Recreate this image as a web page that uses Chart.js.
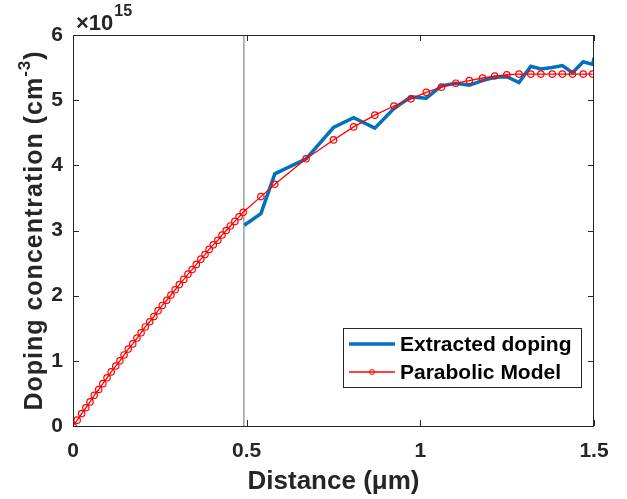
<!DOCTYPE html>
<html>
<head>
<meta charset="utf-8">
<script src="https://cdn.jsdelivr.net/npm/chart.js@4.4.1/dist/chart.umd.min.js"></script>
<style>
  html, body { margin: 0; padding: 0; background: #fff; }
  #chart { display: block; }
</style>
</head>
<body>
<canvas id="chart" width="627" height="499"></canvas>
<script>
// Doping profile: extracted vs parabolic fit. Concentrations are in 1e15 cm^-3
// (the axis shows the multiplier separately, MATLAB style).

const modelX = [
    0, 0.012, 0.025, 0.037, 0.049, 0.061, 0.074, 0.086, 0.098, 0.110,
    0.123, 0.135, 0.147, 0.159, 0.172, 0.184, 0.196, 0.208, 0.221, 0.233,
    0.245, 0.257, 0.270, 0.282, 0.294, 0.306, 0.319, 0.331, 0.343, 0.355,
    0.368, 0.380, 0.392, 0.404, 0.417, 0.429, 0.441, 0.453, 0.466, 0.478,
    0.490, 0.541, 0.581, 0.671, 0.750, 0.808, 0.869, 0.924, 0.973, 1.017,
    1.061, 1.102, 1.141, 1.179, 1.214, 1.249, 1.284, 1.318, 1.347, 1.380,
    1.409, 1.438, 1.469, 1.496,
];
const modelY = [
    0, 0.09, 0.19, 0.28, 0.37, 0.47, 0.56, 0.65, 0.74, 0.83,
    0.92, 1.00, 1.09, 1.18, 1.26, 1.35, 1.43, 1.52, 1.60, 1.68,
    1.77, 1.85, 1.93, 2.01, 2.09, 2.17, 2.25, 2.33, 2.40, 2.48,
    2.56, 2.63, 2.71, 2.78, 2.85, 2.93, 3.00, 3.07, 3.14, 3.21,
    3.28, 3.52, 3.71, 4.10, 4.39, 4.59, 4.77, 4.91, 5.02, 5.12,
    5.20, 5.26, 5.30, 5.34, 5.37, 5.39, 5.40, 5.40, 5.40, 5.40,
    5.40, 5.40, 5.40, 5.40,
];

const dopingX = [
    0.493, 0.541, 0.581, 0.671, 0.750, 0.808, 0.869, 0.924, 0.973, 1.017,
    1.061, 1.102, 1.141, 1.179, 1.214, 1.249, 1.284, 1.318, 1.347, 1.380,
    1.409, 1.438, 1.469, 1.496, 1.500,
];
const dopingY = [
    3.08, 3.26, 3.87, 4.10, 4.58, 4.73, 4.57, 4.87, 5.05, 5.03,
    5.22, 5.26, 5.23, 5.30, 5.35, 5.36, 5.27, 5.52, 5.48, 5.50,
    5.53, 5.42, 5.59, 5.55, 5.65,
];

// depletion edge marker (thin grey vertical line)
const edgeX = 0.492;

const xTicks = [0, 0.5, 1, 1.5];
const yTicks = [0, 1, 2, 3, 4, 5, 6];
const yExponent = "15";

const seriesLabels = ["Extracted doping", "Parabolic Model"];
const xTitle = "Distance (μm)";
const yTitle = ["Doping concentration (cm", "-3", ")"];

const INK = "#262626";
const BLUE = "#0072BD";
const RED = "#FF0000";
const FONT = "'Liberation Sans', Arial, Helvetica, sans-serif";

const toPoints = (xs, ys) => xs.map((x, i) => ({ x, y: ys[i] }));

// MATLAB-ish frame: full box, inward ticks, exponent label, rotated y title
// with a superscript, legend inside the axes.
const matlabAxes = {
    id: "matlabAxes",
    afterDraw(chart) {
        const { ctx, chartArea: a, scales } = chart;
        const { x, y } = scales;
        const tick = 6;
        ctx.save();
        ctx.strokeStyle = INK;
        ctx.lineWidth = 1;
        ctx.strokeRect(a.left + 0.5, a.top + 0.5, a.right - a.left - 1, a.bottom - a.top);

        ctx.beginPath();
        xTicks.forEach((v) => {
            const px = Math.round(x.getPixelForValue(v)) + 0.5;
            ctx.moveTo(px, a.bottom); ctx.lineTo(px, a.bottom - tick);
            ctx.moveTo(px, a.top); ctx.lineTo(px, a.top + tick);
        });
        yTicks.forEach((v) => {
            const py = Math.round(y.getPixelForValue(v)) + 0.5;
            ctx.moveTo(a.left, py); ctx.lineTo(a.left + tick, py);
            ctx.moveTo(a.right, py); ctx.lineTo(a.right - tick, py);
        });
        ctx.stroke();

        // x10^15
        ctx.fillStyle = INK;
        ctx.textBaseline = "alphabetic";
        ctx.textAlign = "left";
        ctx.font = `bold 22px ${FONT}`;
        const base = "×10";
        ctx.fillText(base, a.left + 3, a.top - 5);
        const bw = ctx.measureText(base).width;
        ctx.font = `bold 16px ${FONT}`;
        ctx.fillText(yExponent, a.left + 3 + bw + 1, a.top - 19);

        // y title, rotated, with superscript
        ctx.translate(33, (a.top + a.bottom) / 2);
        ctx.rotate(-Math.PI / 2);
        ctx.textBaseline = "middle";
        ctx.letterSpacing = "1px";
        const mainFont = `bold 25px ${FONT}`;
        const supFont = `bold 17px ${FONT}`;
        ctx.font = mainFont;
        const w0 = ctx.measureText(yTitle[0]).width;
        const w2 = ctx.measureText(yTitle[2]).width;
        ctx.font = supFont;
        const w1 = ctx.measureText(yTitle[1]).width;
        let cx = -(w0 + w1 + w2) / 2;
        ctx.font = mainFont;
        ctx.fillText(yTitle[0], cx, 2);
        cx += w0;
        ctx.font = supFont;
        ctx.fillText(yTitle[1], cx, -8);
        cx += w1;
        ctx.font = mainFont;
        ctx.fillText(yTitle[2], cx, 2);
        ctx.restore();

        // legend box, lower right inside the axes
        ctx.save();
        const lw = 238, lh = 59;
        const lx = a.right - 13 - lw, ly = a.bottom - 39 - lh;
        ctx.fillStyle = "#fff";
        ctx.fillRect(lx, ly, lw, lh);
        ctx.strokeStyle = INK;
        ctx.lineWidth = 1;
        ctx.strokeRect(lx + 0.5, ly + 0.5, lw, lh);
        const rows = [
            { label: seriesLabels[0], color: BLUE, width: 3.5, marker: false },
            { label: seriesLabels[1], color: RED, width: 1.3, marker: true },
        ];
        ctx.font = `bold 21px ${FONT}`;
        ctx.textBaseline = "middle";
        rows.forEach((r, i) => {
            const ry = ly + 16 + i * 28;
            ctx.strokeStyle = r.color;
            ctx.lineWidth = r.width;
            ctx.beginPath();
            ctx.moveTo(lx + 6, ry); ctx.lineTo(lx + 52, ry);
            ctx.stroke();
            if (r.marker) {
                ctx.lineWidth = 1;
                ctx.beginPath();
                ctx.arc(lx + 29, ry, 2.5, 0, Math.PI * 2);
                ctx.stroke();
            }
            ctx.fillStyle = "#000";
            ctx.fillText(r.label, lx + 57, ry + 1);
        });
        ctx.restore();
    },
};

new Chart(document.getElementById("chart").getContext("2d"), {
    type: "scatter",
    data: {
        datasets: [
            {
                label: seriesLabels[1],
                data: toPoints(modelX, modelY),
                showLine: true,
                borderColor: RED,
                borderWidth: 1.3,
                pointRadius: 3.2,
                pointBorderWidth: 1.2,
                pointBorderColor: RED,
                pointBackgroundColor: "rgba(0,0,0,0)",
                order: 0,
            },
            {
                label: seriesLabels[0],
                data: toPoints(dopingX, dopingY),
                showLine: true,
                borderColor: BLUE,
                borderWidth: 3.5,
                pointRadius: 0,
                order: 1,
            },
            {
                label: "edge",
                data: [{ x: edgeX, y: yTicks[0] }, { x: edgeX, y: yTicks[yTicks.length - 1] }],
                showLine: true,
                borderColor: "#9e9e9e",
                borderWidth: 1.5,
                pointRadius: 0,
                order: 2,
            },
        ],
    },
    options: {
        responsive: false,
        animation: false,
        layout: { padding: { left: 0, top: 35, right: 33, bottom: 0 } },
        plugins: { legend: { display: false }, tooltip: { enabled: false } },
        scales: {
            x: {
                type: "linear",
                min: 0,
                max: 1.5,
                afterFit: (s) => { s.height = 73; },
                afterBuildTicks: (s) => { s.ticks = xTicks.map((v) => ({ value: v })); },
                grid: { display: false, drawTicks: false },
                border: { display: false },
                ticks: {
                    color: INK,
                    padding: 13,
                    maxRotation: 0,
                    callback: (v) => String(v),
                    font: { family: FONT, size: 21, weight: "bold" },
                },
                title: {
                    display: true,
                    text: xTitle,
                    color: INK,
                    padding: { top: 0, bottom: 2 },
                    font: { family: FONT, size: 26, weight: "bold" },
                },
            },
            y: {
                type: "linear",
                min: 0,
                max: 6,
                afterFit: (s) => { s.width = 73; },
                afterBuildTicks: (s) => { s.ticks = yTicks.map((v) => ({ value: v })); },
                grid: { display: false, drawTicks: false },
                border: { display: false },
                ticks: {
                    color: INK,
                    padding: 10,
                    callback: (v) => String(v),
                    font: { family: FONT, size: 21, weight: "bold" },
                },
            },
        },
    },
    plugins: [matlabAxes],
});
</script>
</body>
</html>
